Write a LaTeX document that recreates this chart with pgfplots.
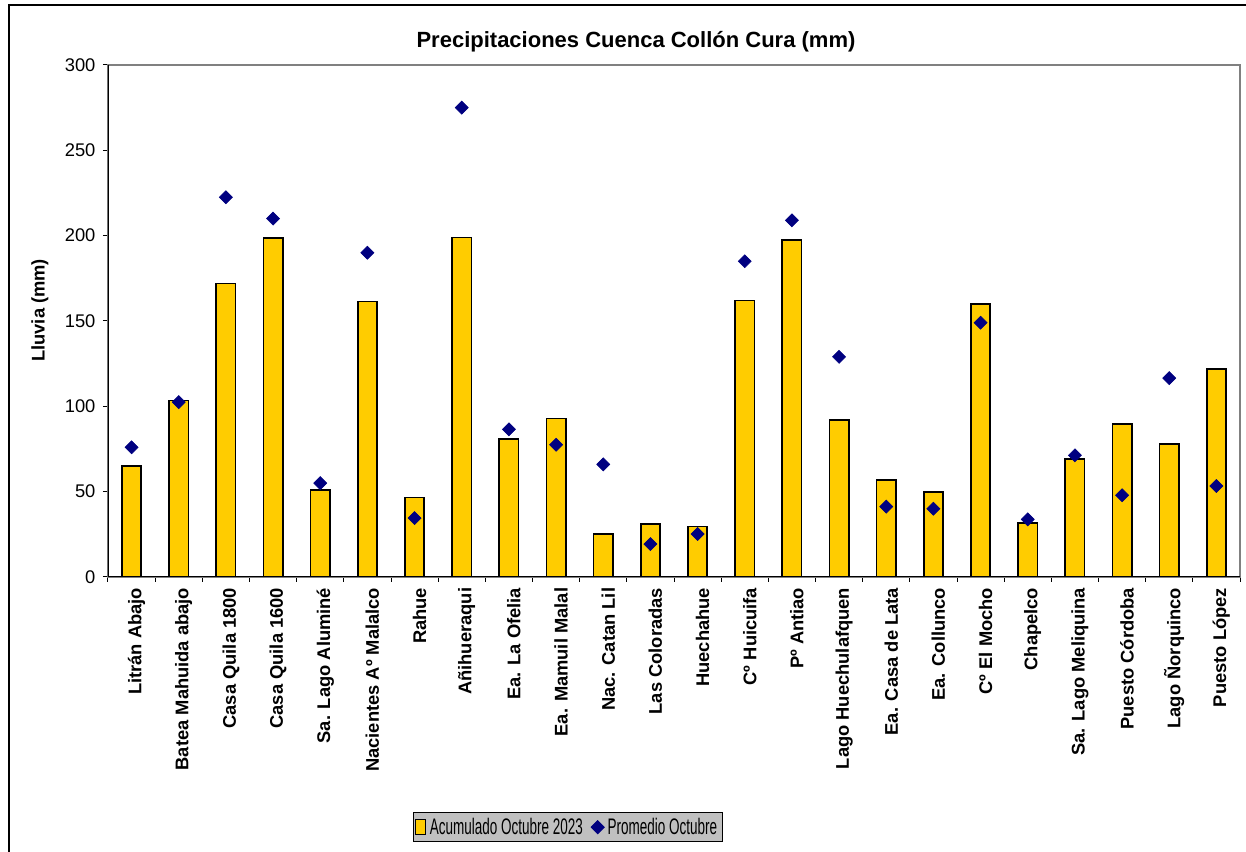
\documentclass[border=0pt]{standalone}
\usepackage{fontspec}
\setmainfont{Liberation Sans}
\newfontfamily\legendfont[FakeStretch=0.6]{Liberation Sans}
\usepackage{pgfplots}
\pgfplotsset{compat=1.18}
\definecolor{baryellow}{HTML}{FFCC00}
\definecolor{navyd}{HTML}{000080}
\definecolor{silverl}{HTML}{C0C0C0}
\begin{document}
\begin{tikzpicture}
\useasboundingbox (0,0) rectangle (747.6pt,511.2pt);
\draw[black, line width=1.1pt] (5.4pt,0pt) -- (5.4pt,508.2pt) -- (747.6pt,508.2pt);
\node[font=\bfseries\fontsize{13.2}{15}\selectfont] at (381.6pt,486pt) {Precipitaciones Cuenca Collón Cura (mm)};
\node[font=\bfseries\fontsize{11}{13}\selectfont, rotate=90] at (24pt,325pt) {Lluvia (mm)};
\begin{axis}[
  at={(64.8pt,165pt)}, anchor=south west,
  scale only axis, width=679.2pt, height=307.2pt,
  xmin=-0.5, xmax=23.5, ymin=0, ymax=300,
  ytick={0,50,...,300},
  xtick={0,...,23},
  xticklabels={Litrán Abajo, Batea Mahuida abajo, Casa Quila 1800, Casa Quila 1600, Sa. Lago Aluminé, Nacientes Aº Malalco, Rahue, Añihueraqui, Ea. La Ofelia, Ea. Mamuil Malal, Nac. Catan Lil, Las Coloradas, Huechahue, Cº Huicuifa, Pº Antiao, Lago Huechulafquen, Ea. Casa de Lata, Ea. Collunco, Cº El Mocho, Chapelco, Sa. Lago Meliquina, Puesto Córdoba, Lago Ñorquinco, Puesto López},
  minor xtick={-0.5,0.5,...,23.5},
  major x tick style={draw=none},
  tick align=outside, tick pos=left,
  major tick length=3pt, minor tick length=3pt,
  tick style={black, line width=0.6pt},
  axis line style={draw=gray, line width=1.2pt},
  /pgf/number format/assume math mode=true,
  yticklabel style={font=\fontsize{11}{13}\selectfont, xshift=-1pt},
  xticklabel style={rotate=90, anchor=east, font=\bfseries\fontsize{11}{13}\selectfont, yshift=-3pt},
  legend style={at={(0.2694,-0.459)}, anchor=north west, fill=silverl, draw=black, line width=0.6pt,
    legend columns=2, font=\legendfont\fontsize{13.5}{15}\selectfont,
    inner xsep=1pt, inner ysep=1.2pt,
    /tikz/every even column/.append style={column sep=3pt}},
  legend cell align=left,
]
\addplot[ybar, bar width=11.6pt, fill=baryellow, draw=black, line width=1pt,
  legend image code/.code={\draw[fill=baryellow, draw=black, line width=0.8pt] (0pt,-4.5pt) rectangle (6pt,4.5pt);}]
  coordinates {(0,65) (1,103.5) (2,172) (3,198.5) (4,51) (5,161.5) (6,46.5) (7,199) (8,81) (9,92.8) (10,25) (11,31) (12,29.5) (13,162) (14,197.5) (15,92) (16,56.8) (17,49.8) (18,160) (19,31.8) (20,69) (21,89.8) (22,78.1) (23,122)};
\addlegendentry{Acumulado Octubre 2023}
\addplot[only marks, mark=square*, mark size=2.75pt, mark options={rotate=45, fill=navyd, draw=navyd}]
  coordinates {(0,76) (1,102.5) (2,222.5) (3,210) (4,55) (5,190) (6,34.5) (7,275) (8,86.5) (9,77.5) (10,66) (11,19.3) (12,25.2) (13,185) (14,209) (15,129) (16,41.2) (17,40) (18,149) (19,33.8) (20,71.3) (21,47.9) (22,116.5) (23,53.3)};
\addlegendentry{Promedio Octubre}
\draw[black, line width=1.2pt] (rel axis cs:0,1) -- (rel axis cs:0,0) -- (rel axis cs:1,0);
\end{axis}
\end{tikzpicture}
\end{document}
